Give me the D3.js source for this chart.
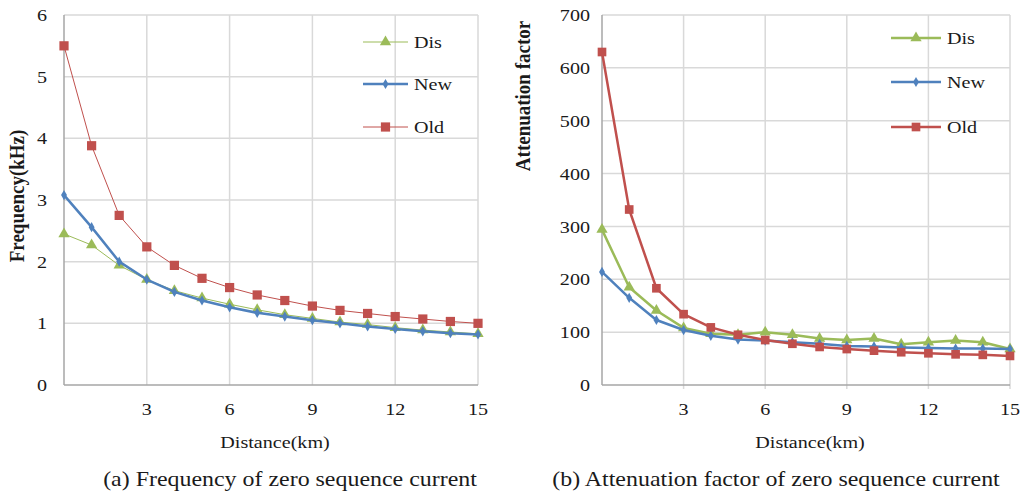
<!DOCTYPE html>
<html><head><meta charset="utf-8">
<script src="https://cdn.jsdelivr.net/npm/d3@7"></script>
<style>body{margin:0;background:#fff}svg{display:block}</style>
</head><body>
<svg id="c" width="1024" height="492"></svg>
<script>
const distance = [0,1,2,3,4,5,6,7,8,9,10,11,12,13,14,15];
const xTicks = [3,6,9,12,15];
const freqTicks = [0,1,2,3,4,5,6];
const attTicks = [0,100,200,300,400,500,600,700];
const seriesNames = ["Dis","New","Old"];

const freqDis = [2.45,2.27,1.94,1.71,1.53,1.41,1.31,1.22,1.14,1.08,1.02,0.98,0.93,0.89,0.86,0.83];
const freqNew = [3.08,2.56,2.00,1.71,1.51,1.37,1.26,1.17,1.11,1.05,1.00,0.95,0.91,0.87,0.84,0.82];
const freqOld = [5.50,3.88,2.75,2.24,1.94,1.73,1.58,1.46,1.37,1.28,1.21,1.16,1.11,1.07,1.03,1.00];

const attDis = [294,185,141,108,97,95,100,95,88,85,88,77,81,84,81,68];
const attNew = [214,165,123,104,93,86,84,81,78,74,73,71,70,69,69,68];
const attOld = [630,332,183,134,109,95,85,78,72,68,65,62,60,58,57,55];

const colors = {Dis:"#9BBB59", New:"#4F81BD", Old:"#C0504D"};
const FONT = "'Liberation Serif','Times New Roman',Tinos,'DejaVu Serif',serif";
const SX = 1.15;
const svg = d3.select("#c").attr("font-family", FONT);

function T(parent, x, y, s, size, anchor, opts={}){
  const t = parent.append("text")
    .attr("transform", opts.rot ? `translate(${x},${y}) rotate(-90) scale(1,${SX})`
                                : `translate(${x},${y}) scale(${SX},1)`)
    .attr("text-anchor", anchor).attr("font-size", size)
    .attr("font-family", FONT).attr("fill", "#1a1a1a").text(s);
  if (opts.dy) t.attr("dy", opts.dy);
  if (opts.bold) t.attr("font-weight", "bold");
  return t;
}

function panel(o){
  const g = svg.append("g");
  const x = d3.scaleLinear().domain([0,15]).range([o.x0,o.x1]);
  const y = d3.scaleLinear().domain([0,o.ymax]).range([385,15]);
  g.append("g").selectAll("line").data(o.yTicks.slice(1)).join("line")
    .attr("x1",o.x0).attr("x2",o.x1).attr("y1",d=>y(d)).attr("y2",d=>y(d))
    .attr("stroke","#d9d9d9").attr("stroke-width",1.5);
  g.append("g").selectAll("line").data(xTicks).join("line")
    .attr("x1",d=>x(d)).attr("x2",d=>x(d)).attr("y1",15).attr("y2",385 + (o.tick?4:0))
    .attr("stroke","#d9d9d9").attr("stroke-width",1.5);
  g.append("line").attr("x1",o.x0).attr("x2",o.x0).attr("y1",15).attr("y2",385).attr("stroke","#a6a6a6").attr("stroke-width",1.5);
  g.append("line").attr("x1",o.x0).attr("x2",o.x1).attr("y1",385).attr("y2",385).attr("stroke","#a6a6a6").attr("stroke-width",1.5);
  o.yTicks.forEach(d=>T(g, o.yLabX, y(d), d, 17.5, "end", {dy:"0.35em"}));
  xTicks.forEach(d=>T(g, x(d), 415, d, 17.5, "middle"));
  T(g, (o.x0+o.x1)/2+4, 448, "Distance(km)", 17.5, "middle");
  T(g, o.ytX, o.ytY, o.yTitle, 19, "middle", {rot:true, bold:true});
  T(g, o.capX, 486, o.caption, 20.8, "middle");

  const line = d3.line().x((d,i)=>x(distance[i])).y(d=>y(d));
  const sym = {Dis:d3.symbolTriangle, New:d3.symbolDiamond, Old:d3.symbolSquare};
  const symSize = {Dis:o.triS, New:o.diaS, Old:o.sqS};
  o.order.forEach(name=>{
    const vals = o.data[name];
    g.append("path").datum(vals).attr("d",line).attr("fill","none")
      .attr("stroke",colors[name]).attr("stroke-width",o.lw[name]).attr("stroke-linejoin","round");
    g.append("g").selectAll("path").data(vals).join("path")
      .attr("transform",(d,i)=>`translate(${x(distance[i])},${y(d)})`)
      .attr("d",d3.symbol().type(sym[name]).size(symSize[name])).attr("fill",colors[name]);
  });
  seriesNames.forEach((name,i)=>{
    const ly = o.legY[i];
    g.append("line").attr("x1",o.legX).attr("x2",o.legX+o.legW).attr("y1",ly).attr("y2",ly)
      .attr("stroke",colors[name]).attr("stroke-width",o.lw[name]);
    g.append("path").attr("transform",`translate(${o.legX+o.legW/2},${ly})`)
      .attr("d",d3.symbol().type(sym[name]).size(symSize[name])).attr("fill",colors[name]);
    T(g, o.legX+o.legW+6, ly, name, 17.5, "start", {dy:"0.35em"});
  });
}

panel({x0:64,x1:478,ymax:6,yTicks:freqTicks,yLabX:47,ytX:24,ytY:196,
  yTitle:"Frequency(kHz)",capX:290,caption:"(a) Frequency of zero sequence current",
  data:{Dis:freqDis,New:freqNew,Old:freqOld},order:["Dis","Old","New"],
  lw:{Dis:1,New:2.5,Old:1},triS:55,diaS:30,sqS:85,
  legX:363,legW:45,legY:[42,84,127],tick:false});

panel({x0:602,x1:1010,ymax:700,yTicks:attTicks,yLabX:590,ytX:530,ytY:96,
  yTitle:"Attenuation factor",capX:776,caption:"(b) Attenuation factor of zero sequence current",
  data:{Dis:attDis,New:attNew,Old:attOld},order:["Dis","New","Old"],
  lw:{Dis:2.5,New:2.5,Old:2.5},triS:55,diaS:30,sqS:75,
  legX:891,legW:50,legY:[38,82,127],tick:true});
</script>
</body></html>
